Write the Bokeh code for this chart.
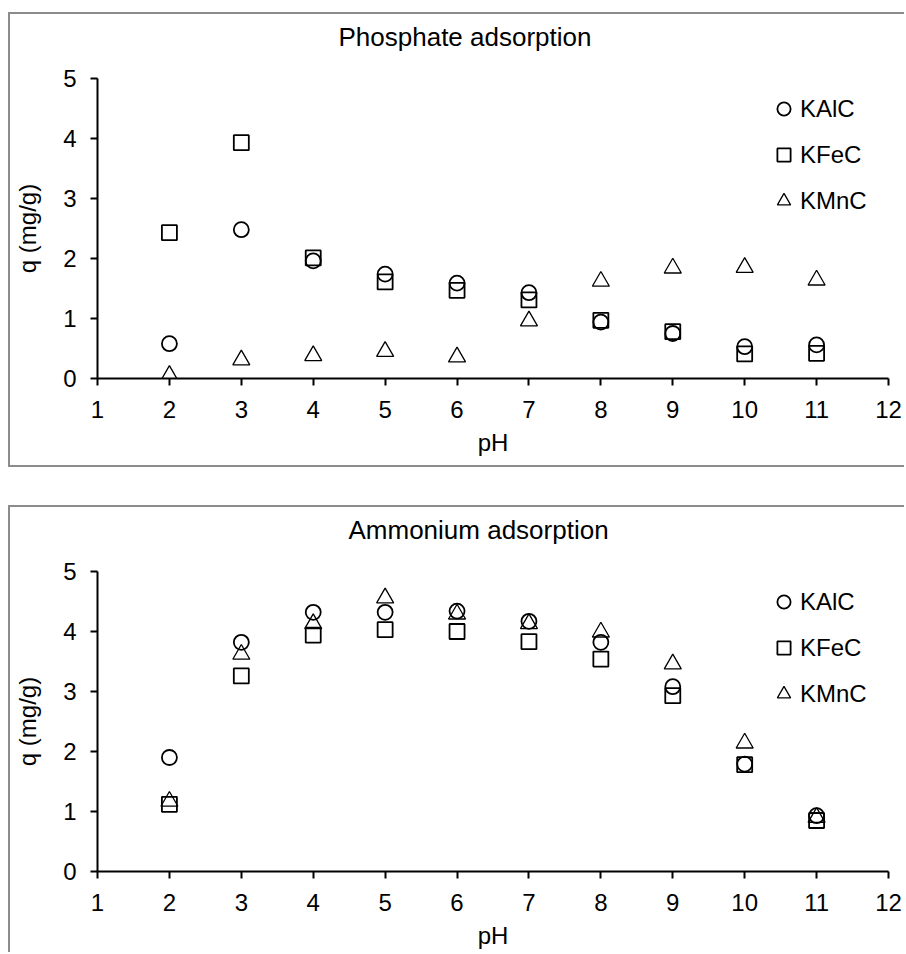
from bokeh.plotting import figure
from bokeh.layouts import column
from bokeh.models import Range1d, Legend, LegendItem, FixedTicker, Title
from bokeh.embed import file_html
from bokeh.resources import INLINE

# ---- data ----
ph = [2, 3, 4, 5, 6, 7, 8, 9, 10, 11]

phos_kalc = [0.58, 2.48, 1.96, 1.74, 1.59, 1.43, 0.94, 0.75, 0.53, 0.56]
phos_kfec = [2.43, 3.93, 2.01, 1.61, 1.47, 1.31, 0.97, 0.78, 0.41, 0.42]
phos_kmnc = [0.05, 0.31, 0.38, 0.45, 0.36, 0.96, 1.62, 1.84, 1.85, 1.64]

amm_kalc = [1.90, 3.82, 4.32, 4.32, 4.34, 4.17, 3.82, 3.08, 1.79, 0.93]
amm_kfec = [1.12, 3.26, 3.94, 4.03, 4.00, 3.83, 3.54, 2.93, 1.78, 0.85]
amm_kmnc = [1.17, 3.62, 4.13, 4.56, 4.29, 4.13, 3.99, 3.46, 2.14, 0.90]

series_names = ["KAlC", "KFeC", "KMnC"]
x_ticks = [1, 2, 3, 4, 5, 6, 7, 8, 9, 10, 11, 12]
y_ticks = [0, 1, 2, 3, 4, 5]
titles = ["Phosphate adsorption", "Ammonium adsorption"]
x_label = "pH"
y_label = "q (mg/g)"

FONT = "Liberation Sans"
BORDER = "2px solid #8c8c8c"


def make_panel(title, title_offset, kalc, kfec, kmnc, height, min_bottom, styles, margin):
    p = figure(width=896, height=height,
               x_range=Range1d(1, 12), y_range=Range1d(0, 5),
               output_backend="svg", toolbar_location=None,
               min_border_left=87, min_border_right=18,
               min_border_top=64, min_border_bottom=min_bottom)
    p.margin = margin
    p.styles = styles
    p.outline_line_color = None
    p.xgrid.visible = False
    p.ygrid.visible = False
    p.background_fill_color = "white"
    p.border_fill_color = "white"

    # empty spacer between the frame and the title
    p.add_layout(Title(text=" ", text_font_size="10px", standoff=9), "above")

    p.title.text = title
    p.title.align = "left"
    p.title.offset = title_offset
    p.title.standoff = 10
    p.title.text_font = FONT
    p.title.text_font_size = "26px"
    p.title.text_font_style = "normal"
    p.title.text_color = "black"

    for ax, ticks in ((p.xaxis[0], x_ticks), (p.yaxis[0], y_ticks)):
        ax.ticker = FixedTicker(ticks=ticks)
        ax.minor_tick_line_color = None
        ax.axis_line_color = "black"
        ax.axis_line_width = 2
        ax.major_tick_line_color = "black"
        ax.major_tick_line_width = 2
        ax.major_tick_out = 7
        ax.major_tick_in = 0
        ax.major_label_text_font = FONT
        ax.major_label_text_font_size = "24px"
        ax.major_label_text_color = "black"
        ax.axis_label_text_font = FONT
        ax.axis_label_text_font_size = "24px"
        ax.axis_label_text_font_style = "normal"
        ax.axis_label_text_color = "black"
    p.xaxis[0].axis_label = x_label
    p.yaxis[0].axis_label = y_label
    p.xaxis[0].major_label_standoff = 15
    p.yaxis[0].major_label_standoff = 14
    p.xaxis[0].axis_label_standoff = 8
    p.yaxis[0].axis_label_standoff = 19

    r1 = p.scatter(ph, kalc, marker="circle", size=15, fill_color=None,
                   line_color="black", line_width=1.8)
    r2 = p.scatter(ph, kfec, marker="square", size=15, fill_color=None,
                   line_color="black", line_width=1.8)
    r3 = p.scatter(ph, kmnc, marker="triangle", size=17, fill_color=None,
                   line_color="black", line_width=1.3)

    legend = Legend(items=[LegendItem(label=series_names[0], renderers=[r1]),
                           LegendItem(label=series_names[1], renderers=[r2]),
                           LegendItem(label=series_names[2], renderers=[r3])],
                    location=(670, 161), glyph_width=33, glyph_height=33,
                    spacing=13, padding=0, margin=0, label_standoff=0,
                    border_line_alpha=0, background_fill_alpha=0,
                    label_text_font=FONT, label_text_font_size="24px",
                    label_text_color="black")
    p.add_layout(legend)
    return p


p1 = make_panel(titles[0], 241, phos_kalc, phos_kfec, phos_kmnc, 455, 91,
                {"border-left": BORDER, "border-top": BORDER, "border-bottom": BORDER},
                (12, 0, 0, 8))
p2 = make_panel(titles[1], 251, amm_kalc, amm_kfec, amm_kmnc, 447, 83,
                {"border-left": BORDER, "border-top": BORDER},
                (38, 0, 0, 8))

layout = column(p1, p2, spacing=0)
open("out.html", "w").write(file_html(layout, INLINE))
